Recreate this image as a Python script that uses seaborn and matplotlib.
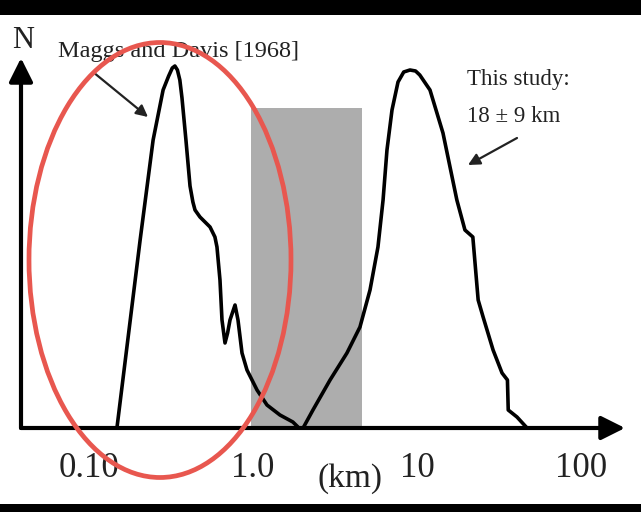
import numpy as np
import pandas as pd
import matplotlib
matplotlib.use("Agg")
import matplotlib.pyplot as plt
import matplotlib.patches as mpatches
import seaborn as sns

# Size distributions (km vs. relative N)
maggs_km = [0.148, 0.205, 0.246, 0.283, 0.306, 0.322, 0.334, 0.346, 0.358, 0.369,
            0.390, 0.413, 0.430, 0.443, 0.475, 0.547, 0.586, 0.603, 0.629, 0.647,
            0.675, 0.700, 0.724, 0.777, 0.810, 0.857, 0.919, 1.058, 1.217, 1.46,
            1.75, 1.88]
maggs_n = [0, 188, 288, 338, 352, 360, 362, 358, 348, 330,
           288, 242, 226, 218, 211, 201, 191, 181, 148, 108,
           85, 95, 108, 123, 108, 75, 58, 38, 23, 13,
           6, 1]

study_km = [2.02, 2.32, 2.95, 3.74, 4.49, 5.17, 5.78, 6.21, 6.56, 7.04,
            7.66, 8.3, 9.06, 9.8, 10.4, 12.0, 14.4, 17.5, 19.6, 21.9,
            23.6, 25.3, 29.1, 33.0, 35.6, 36.0, 40.7, 46.9]
study_n = [0, 18, 48, 75, 101, 138, 181, 228, 278, 318,
           346, 356, 358, 357, 353, 338, 295, 228, 198, 191,
           128, 111, 78, 55, 48, 18, 11, 0]

band_km = [1.0, 4.5]
band_top = 320

tick_values = [0.1, 1.0, 10, 100]
tick_labels = ["0.10", "1.0", "10", "100"]

W, H = 641, 512
sns.set_style("white")
plt.rcParams["font.family"] = ["Liberation Serif", "DejaVu Serif"]

fig = plt.figure(figsize=(W / 100, H / 100), dpi=100)
fig.patch.set_facecolor("white")


def fx(px):
    return px / W


def fy(py):
    return 1 - py / H


# plot area in pixels: x 21..625, y 58..428
ax = fig.add_axes([fx(21), fy(428), fx(625) - fx(21), fy(58) - fy(428)])
ax.set_facecolor("none")
ax.set_xscale("log")
x0 = 10 ** ((21 - 253) / 164)
x1 = 10 ** ((625 - 253) / 164)
ax.set_xlim(x0, x1)
ax.set_ylim(0, 370)

ax.axvspan(band_km[0] * 0.97, band_km[1] * 1.02, ymin=0, ymax=band_top / 370,
           color="#adadad", lw=0, zorder=1)

df_m = pd.DataFrame({"km": maggs_km, "N": maggs_n})
df_s = pd.DataFrame({"km": study_km, "N": study_n})
line_kw = dict(color="black", lw=2.6, sort=False, zorder=3,
               solid_joinstyle="round", solid_capstyle="round")
sns.lineplot(data=df_m, x="km", y="N", ax=ax, **line_kw)
sns.lineplot(data=df_s, x="km", y="N", ax=ax, **line_kw)

for s in ax.spines.values():
    s.set_visible(False)

ax.set_xlabel("")
ax.set_ylabel("")
ax.set_yticks([])
ax.set_xticks(tick_values)
ax.set_xticklabels(tick_labels)
ax.xaxis.set_minor_locator(matplotlib.ticker.NullLocator())
ax.tick_params(axis="x", direction="out", length=11, width=2.6,
               color="#222222", labelsize=25, labelcolor="#222222", pad=6)

# axes drawn as arrows
arrow_kw = dict(arrowstyle="-|>,head_length=0.6,head_width=0.3",
                mutation_scale=24, lw=3, color="black",
                shrinkA=0, shrinkB=0)
ax.annotate("", xy=(1, 0), xytext=(0, 0), xycoords="axes fraction",
            arrowprops=arrow_kw, annotation_clip=False, zorder=4)
ax.annotate("", xy=(0, 1), xytext=(0, 0), xycoords="axes fraction",
            arrowprops=arrow_kw, annotation_clip=False, zorder=4)

txt = dict(color="#222222", transform=fig.transFigure)
fig.text(fx(23), fy(40), "N", fontsize=22, ha="center", va="center", **txt)
fig.text(fx(58), fy(51), "Maggs and Davis [1968]", fontsize=17.5,
         ha="left", va="center", **txt)
fig.text(fx(467), fy(80), "This study:", fontsize=16.5, ha="left",
         va="center", **txt)
fig.text(fx(467), fy(117), "18 ± 9 km", fontsize=16.5, ha="left",
         va="center", **txt)
fig.text(fx(350), fy(479), "(km)", fontsize=24, ha="center",
         va="center", **txt)

pointer = dict(arrowstyle="-|>,head_length=0.5,head_width=0.25",
               mutation_scale=14, lw=1.6, color="#222222",
               shrinkA=0, shrinkB=0)
ax.annotate("", xy=(fx(148), fy(117)), xytext=(fx(93), fy(72)),
            xycoords="figure fraction", arrowprops=pointer)
ax.annotate("", xy=(fx(468), fy(165)), xytext=(fx(517), fy(138)),
            xycoords="figure fraction", arrowprops=pointer)

# red ellipse around the earlier distribution
ell = mpatches.Ellipse((fx(160), fy(260)), fx(262), 435 / H,
                       transform=fig.transFigure, fill=False,
                       edgecolor="#e8574f", lw=3.4, zorder=10)
fig.add_artist(ell)

# black bands at top and bottom edges
fig.add_artist(mpatches.Rectangle((0, fy(15)), 1, 15 / H, transform=fig.transFigure,
                                  color="black", lw=0, zorder=11))
fig.add_artist(mpatches.Rectangle((0, 0), 1, 8 / H, transform=fig.transFigure,
                                  color="black", lw=0, zorder=11))

fig.savefig("out.png", dpi=100, facecolor="white")
